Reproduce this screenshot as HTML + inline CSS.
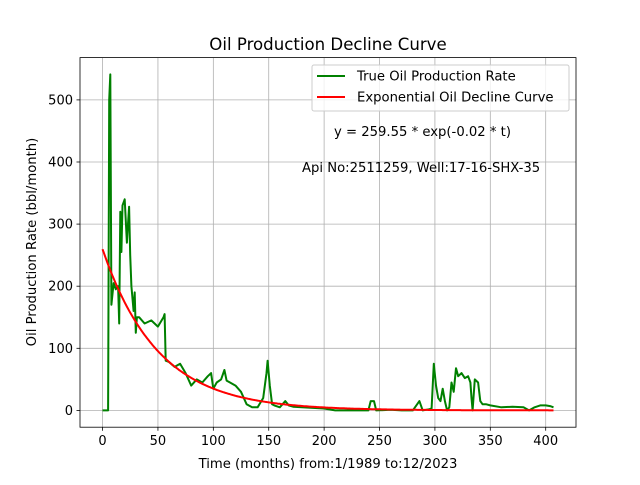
<!DOCTYPE html>
<html><head><meta charset="utf-8"><style>
body{margin:0;background:#fff}
svg text{font-family:"DejaVu Sans","Liberation Sans",sans-serif;}
</style></head><body>
<svg id="chart" width="640" height="480" viewBox="0 0 640 480" xmlns="http://www.w3.org/2000/svg">
<rect width="640" height="480" fill="#fff"/>
<g id="grid"></g>
<g id="series"></g>
<rect x="80" y="57.6" width="496" height="369.6" fill="none" stroke="#000" stroke-width="0.8"/>
<g id="ticks"></g>
<text x="328" y="50" font-size="16.6" text-anchor="middle">Oil Production Decline Curve</text>
<text x="328" y="468" font-size="13.2" text-anchor="middle">Time (months) from:1/1989 to:12/2023</text>
<text x="36" y="242" font-size="13.2" text-anchor="middle" transform="rotate(-90 36 242)">Oil Production Rate (bbl/month)</text>
<g>
<rect x="312" y="65" width="257" height="46" rx="2" fill="#fff" fill-opacity="0.8" stroke="#ccc"/>
<line x1="317" y1="76" x2="345" y2="76" stroke="green" stroke-width="2"/>
<text x="357" y="80.5" font-size="13.2">True Oil Production Rate</text>
<line x1="317" y1="97" x2="345" y2="97" stroke="red" stroke-width="2"/>
<text x="357" y="101.5" font-size="13.2">Exponential Oil Decline Curve</text>
</g>
<text x="334" y="136" font-size="13.2">y = 259.55 * exp(-0.02 * t)</text>
<text x="302" y="172" font-size="13.2">Api No:2511259, Well:17-16-SHX-35</text>
</svg>
<script>
const months=[0,5,6,7,8,10,12,14,15,16,17,18,20,22,23,24,25,26,28,29,30,31,33,38,44,50,55,56,57,60,65,70,75,80,85,90,95,98,100,103,107,110,112,115,120,125,130,135,140,145,148,149,151,153,155,160,165,168,172,180,190,200,210,220,230,240,242,245,247,260,270,280,284,286,289,292,295,297,299,301,303,305,307,309,311,313,315,317,319,321,324,327,330,332,333,334,336,339,341,343,346,350,360,370,380,385,390,395,400,404,407];
const rates=[0,0,500,541,170,205,195,200,140,320,255,330,340,270,300,328,250,200,160,190,125,150,150,140,145,135,150,155,80,78,70,75,60,40,50,45,55,60,35,45,50,65,48,45,40,30,10,5,5,20,60,80,40,10,8,5,15,8,6,5,4,3,0,0,0,0,15,15,0,1,0,0,10,15,0,1,2,3,75,40,20,15,35,15,0,5,45,30,68,55,60,52,55,45,20,0,50,45,15,10,10,8,5,6,5,0,5,8,8,7,5];
const fitA=259.55, fitB=0.02, fitTMax=407;
const xTicks=[0,50,100,150,200,250,300,350,400];
const yTicks=[0,100,200,300,400,500];
const X0=80,X1=576,Y0=427.2,Y1=57.6,xmin=-20.35,xmax=427.35,ymin=-27.05,ymax=568.1;
const xs=v=>X0+(v-xmin)/(xmax-xmin)*(X1-X0);
const ys=v=>Y0-(v-ymin)/(ymax-ymin)*(Y0-Y1);
const NS="http://www.w3.org/2000/svg";
function mk(tag,attrs,parent){const e=document.createElementNS(NS,tag);for(const k in attrs)e.setAttribute(k,attrs[k]);parent.appendChild(e);return e;}
const grid=document.getElementById('grid'),ticks=document.getElementById('ticks'),series=document.getElementById('series');
xTicks.forEach(t=>{const x=xs(t);
 const g=mk('line',{x1:x,x2:x,y1:Y1,y2:Y0,stroke:'#b0b0b0','stroke-width':0.8},grid);
 
 
 mk('line',{x1:x,x2:x,y1:Y0,y2:Y0+3.5,stroke:'#000','stroke-width':0.8},ticks);
 const l=mk('text',{x:x,y:Y0+18,'font-size':13,'text-anchor':'middle'},ticks);l.textContent=t;
 
 
});
yTicks.forEach(t=>{const y=ys(t);
 const g=mk('line',{x1:X0,x2:X1,y1:y,y2:y,stroke:'#b0b0b0','stroke-width':0.8},grid);
 
 
 mk('line',{x1:X0-3.5,x2:X0,y1:y,y2:y,stroke:'#000','stroke-width':0.8},ticks);
 const l=mk('text',{x:X0-7,y:y+4.5,'font-size':13,'text-anchor':'end'},ticks);l.textContent=t;
 
 
});
const tp=months.map((m,i)=>xs(m).toFixed(1)+','+ys(rates[i]).toFixed(1)).join(' ');
const p1=mk('polyline',{points:tp,fill:'none',stroke:'green','stroke-width':2,'stroke-linejoin':'round'},series);


const fp=[];for(let t=0;t<=fitTMax;t++)fp.push(xs(t).toFixed(1)+','+ys(fitA*Math.exp(-fitB*t)).toFixed(1));
const p2=mk('polyline',{points:fp.join(' '),fill:'none',stroke:'red','stroke-width':2},series);


</script>
</body></html>
